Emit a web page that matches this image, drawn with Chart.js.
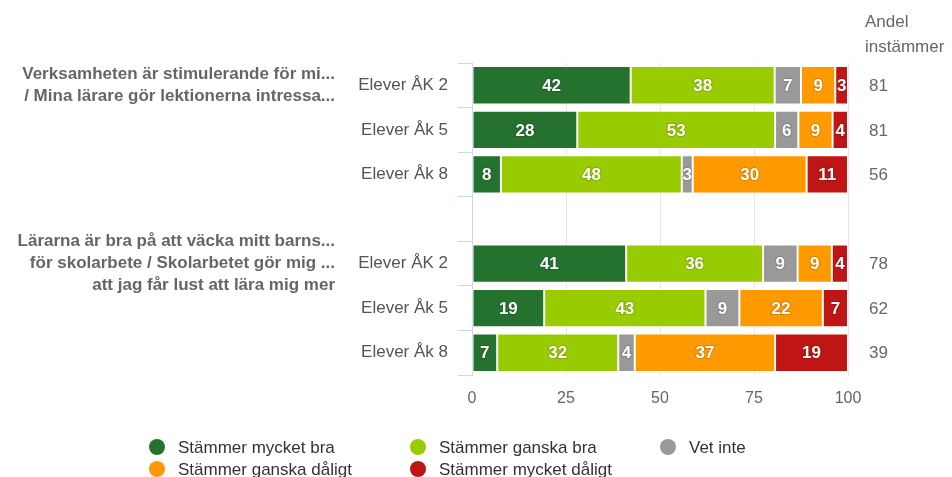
<!DOCTYPE html>
<html>
<head>
<meta charset="utf-8">
<script src="https://cdn.jsdelivr.net/npm/chart.js@4/dist/chart.umd.min.js"></script>
<style>
html,body{margin:0;padding:0;background:#fff;}
#wrap{width:952px;height:477px;position:relative;}
</style>
</head>
<body>
<div id="wrap"><canvas id="c" width="952" height="477"></canvas></div>
<script>
const categories = ['Elever ÅK 2', 'Elever Åk 5', 'Elever Åk 8', '', 'Elever ÅK 2', 'Elever Åk 5', 'Elever Åk 8'];
const seriesNames = ['Stämmer mycket bra', 'Stämmer ganska bra', 'Vet inte', 'Stämmer ganska dåligt', 'Stämmer mycket dåligt'];
const mycketBra    = [42.2, 28.0, 7.7, null, 41.0, 19.2, 6.7];
const ganskaBra    = [38.3, 52.6, 48.1, null, 36.4, 42.9, 32.2];
const vetInte      = [7.0, 6.2, 2.9, null, 9.2, 9.0, 4.4];
const ganskaDaligt = [9.1, 9.1, 30.3, null, 9.1, 22.2, 37.3];
const mycketDaligt = [3.4, 4.1, 11.0, null, 4.3, 6.7, 19.4];
const barLabels = [
  [42, 28, 8, null, 41, 19, 7],
  [38, 53, 48, null, 36, 43, 32],
  [7, 6, 3, null, 9, 9, 4],
  [9, 9, 30, null, 9, 22, 37],
  [3, 4, 11, null, 4, 7, 19]
];
const andelInstammer = [81, 81, 56, null, 78, 62, 39];
const andelHeader = ['Andel', 'instämmer'];
const groupLabels = [
  { row: 0, lines: ['Verksamheten är stimulerande för mi...', '/ Mina lärare gör lektionerna intressa...'] },
  { row: 4, lines: ['Lärarna är bra på att väcka mitt barns...', 'för skolarbete / Skolarbetet gör mig ...', 'att jag får lust att lära mig mer'] }
];
const xTicks = [0, 25, 50, 75, 100];
const colors = ['#25722f', '#99cc00', '#999999', '#ff9900', '#bf1515'];

const seriesData = [mycketBra, ganskaBra, vetInte, ganskaDaligt, mycketDaligt];
const FONT = '"Liberation Sans", Arial, sans-serif';

const extras = {
  id: 'extras',
  afterDatasetsDraw(chart) {
    const ctx = chart.ctx;
    ctx.save();
    ctx.textAlign = 'center';
    ctx.textBaseline = 'middle';
    ctx.font = 'bold 17px ' + FONT;
    chart.data.datasets.forEach((ds, di) => {
      const meta = chart.getDatasetMeta(di);
      meta.data.forEach((el, i) => {
        const lbl = barLabels[di][i];
        if (lbl === null || ds.data[i] === null) return;
        const cx = (el.x + el.base) / 2;
        ctx.lineWidth = 2;
        ctx.strokeStyle = 'rgba(0,0,0,0.15)';
        ctx.strokeText(String(lbl), cx, el.y + 1);
        ctx.fillStyle = '#ffffff';
        ctx.fillText(String(lbl), cx, el.y + 1);
      });
    });
    ctx.restore();
  },
  afterDraw(chart) {
    const ctx = chart.ctx;
    const y = chart.scales.y;
    ctx.save();
    ctx.font = 'bold 17px ' + FONT;
    ctx.fillStyle = '#666666';
    ctx.textAlign = 'right';
    ctx.textBaseline = 'middle';
    const lh = 22;
    groupLabels.forEach(g => {
      const cy = y.getPixelForValue(g.row);
      const n = g.lines.length;
      g.lines.forEach((t, k) => {
        ctx.fillText(t, 335, cy + (k - (n - 1) / 2) * lh);
      });
    });
    ctx.font = '17px ' + FONT;
    ctx.fillStyle = '#666666';
    ctx.textAlign = 'left';
    andelInstammer.forEach((v, i) => {
      if (v === null) return;
      ctx.fillText(String(v), 869, y.getPixelForValue(i) + 1);
    });
    ctx.fillText(andelHeader[0], 865, 22);
    ctx.fillText(andelHeader[1], 865, 47);
    const pos = [[157, 447], [418, 447], [668, 447], [157, 469], [418, 469]];
    ctx.font = '17px ' + FONT;
    seriesNames.forEach((name, i) => {
      const [px, py] = pos[i];
      ctx.beginPath();
      ctx.arc(px, py, 8, 0, Math.PI * 2);
      ctx.fillStyle = colors[i];
      ctx.fill();
      ctx.fillStyle = '#333333';
      ctx.fillText(name, px + 21, py + 1);
    });
    ctx.restore();
  }
};

new Chart(document.getElementById('c'), {
  type: 'bar',
  data: {
    labels: categories,
    datasets: seriesData.map((d, i) => ({
      label: seriesNames[i],
      data: d,
      backgroundColor: colors[i],
      borderColor: '#ffffff',
      borderWidth: 1,
      borderSkipped: false,
      barPercentage: 0.86,
      categoryPercentage: 1
    }))
  },
  options: {
    indexAxis: 'y',
    responsive: false,
    animation: false,
    layout: { padding: { left: 0, right: 104, top: 63, bottom: 0 } },
    plugins: { legend: { display: false }, tooltip: { enabled: false } },
    scales: {
      x: {
        stacked: true,
        min: 0, max: 100,
        afterBuildTicks(s) { s.ticks = xTicks.map(v => ({ value: v })); },
        afterFit(s) { s.height = 102; },
        grid: { color: '#e6e6e6', drawTicks: false },
        border: { display: false },
        ticks: { color: '#666666', font: { size: 16, family: FONT }, padding: 14 }
      },
      y: {
        stacked: true,
        afterFit(s) { s.width = 472; },
        grid: { drawOnChartArea: false, drawTicks: true, tickLength: 14, color: '#ccd6eb', offset: true },
        border: { display: true, color: '#ccd6eb' },
        ticks: { color: '#555555', font: { size: 17, family: FONT }, padding: 10, autoSkip: false }
      }
    }
  },
  plugins: [extras]
});
</script>
</body>
</html>
